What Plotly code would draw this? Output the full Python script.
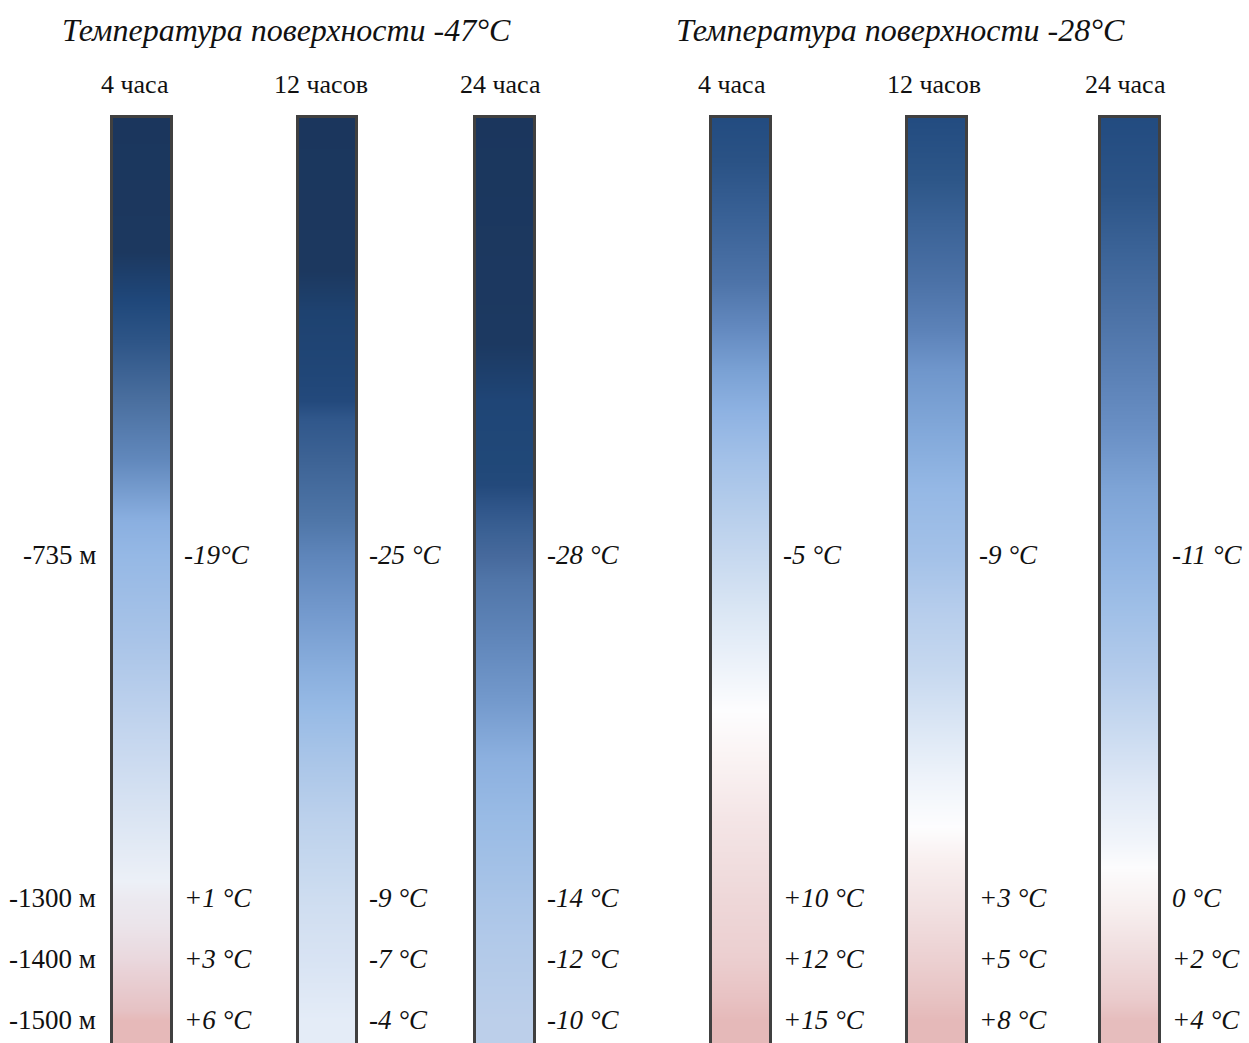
import plotly.graph_objects as go

# ---- data -------------------------------------------------------------
# depths (m) of the temperature readings; 0 is the surface
depths = [0, -735, -1300, -1400, -1500]
depth_ticks = [-735, -1300, -1400, -1500]
depth_tick_labels = ["-735 м", "-1300 м", "-1400 м", "-1500 м"]

group_titles = ["Температура поверхности -47°C", "Температура поверхности -28°C"]
durations = ["4 часа", "12 часов", "24 часа"]

# temperature (°C) at each depth, one list per exposure time
temps_m47_4h = [-47, -19, 1, 3, 6]
temps_m47_12h = [-47, -25, -9, -7, -4]
temps_m47_24h = [-47, -28, -14, -12, -10]
temps_m28_4h = [-28, -5, 10, 12, 15]
temps_m28_12h = [-28, -9, 3, 5, 8]
temps_m28_24h = [-28, -11, 0, 2, 4]

columns = [temps_m47_4h, temps_m47_12h, temps_m47_24h,
           temps_m28_4h, temps_m28_12h, temps_m28_24h]

# ---- styling ------------------------------------------------------------
W, H = 1249, 1043
TOP = 115
Y_RANGE = [-1538, -11]

# outer left / right pixel edges of the six bars
bar_edges = [(110, 173), (296, 358), (473, 536), (709, 772), (905, 968), (1098, 1161)]
header_x = [135, 321, 500, 732, 934, 1125]
title_x = [286, 900]

# per-bar colour gradients: (temperature, colour)
gradients = [
    [(-47, "#1b365d"), (-38, "#1c385f"), (-35, "#1f477a"), (-32.4, "#2e5587"),
     (-28.7, "#4a6f9f"), (-25, "#6188bc"), (-21.2, "#8aafe0"), (-19, "#95b8e5"),
     (-14, "#a9c4e8"), (-8.8, "#c3d5ee"), (-3.6, "#dbe5f3"), (0, "#ecf0f7"),
     (1.9, "#ebe4ea"), (3.45, "#e9d3d8"), (5.5, "#e6c2c4"), (6, "#e6b9b9")],
    [(-47, "#1b365d"), (-39, "#1c385f"), (-37, "#1e4270"), (-34, "#204677"),
     (-32.6, "#23497c"), (-31.7, "#30578b"), (-29.7, "#3d6395"), (-26.7, "#4f76a8"),
     (-25, "#5e85ba"), (-22.5, "#7298cc"), (-19.7, "#89aedd"), (-17.7, "#98bbe6"),
     (-15.5, "#a9c5e8"), (-12.7, "#bcd1ec"), (-9.9, "#c9daef"), (-7.7, "#d5e1f2"),
     (-4, "#e4ecf7")],
    [(-47, "#1b365d"), (-37, "#1c3961"), (-34.6, "#1f4576"), (-32, "#204878"),
     (-31, "#23497b"), (-30, "#30568a"), (-29, "#3b6194"), (-28, "#46699c"),
     (-27, "#5075a8"), (-24.6, "#6086ba"), (-22.1, "#7399cc"), (-19.7, "#8cb0df"),
     (-17.3, "#99bbe5"), (-14.8, "#a5c2e7"), (-12.7, "#b1c9e9"), (-10, "#bccfea")],
    [(-28, "#214a7f"), (-25.3, "#2a5285"), (-22.2, "#3a6297"), (-19.1, "#4d73a8"),
     (-16.7, "#6389bf"), (-14.5, "#7aa1d4"), (-12.4, "#8eb2e2"), (-9.9, "#a3c1e8"),
     (-7.4, "#b5cdeb"), (-5, "#c6d8ef"), (-2.6, "#dae6f4"), (0, "#eef3fa"),
     (1.8, "#fdfdfe"), (3.9, "#faf3f3"), (6.5, "#f4e5e6"), (9.4, "#efdadb"),
     (11.7, "#ecd0d1"), (13.9, "#e8c2c3"), (15, "#e5b9b9")],
    [(-28, "#214a7f"), (-25, "#2d5688"), (-23.2, "#3a6296"), (-20.7, "#4b71a6"),
     (-18.6, "#5c82b8"), (-16.9, "#6f96cb"), (-14, "#84aadb"), (-11.8, "#95b8e5"),
     (-9, "#a3c1e8"), (-7.1, "#b6cdec"), (-5, "#c6d8ef"), (-2.9, "#dce7f5"),
     (-1.2, "#eef3fa"), (0.5, "#fdfdfe"), (1.7, "#f8efef"), (3.4, "#f1e0e1"),
     (4.9, "#ecd1d2"), (6.9, "#e7c3c3"), (8, "#e5b9b9")],
    [(-28, "#214a7f"), (-24.8, "#2c5487"), (-22.6, "#3b6397"), (-20.3, "#4b71a5"),
     (-18, "#5a80b5"), (-15.7, "#6a90c5"), (-13.5, "#7ea4d6"), (-11, "#8fb3e2"),
     (-9.3, "#9fbfe7"), (-7.3, "#b3cbeb"), (-5.4, "#c9daf0"), (-3.5, "#e0e9f6"),
     (-1.9, "#f0f4fa"), (-1, "#fcfcfd"), (0.4, "#f7eeee"), (1.9, "#efdcdd"),
     (3.3, "#eacbcc"), (4, "#e6bdbd")],
]

SERIF = "Liberation Serif, Times New Roman, serif"
TEXT = "#111111"
BORDER = "#404040"


def colorscale(stops):
    lo, hi = stops[0][0], stops[-1][0]
    return [[(t - lo) / (hi - lo), c] for t, c in stops], lo, hi


def temp_label(v, compact=False):
    sep = "" if compact else " "
    sign = "+" if v > 0 else ""
    return f"{sign}{v}{sep}°C"


def to_paper(py):
    """pixel row -> paper coordinate"""
    return 1 + (TOP - py) / (H - TOP)


fig = go.Figure()
annotations = []
shapes = []

order = sorted(range(len(depths)), key=lambda i: depths[i])
y_sorted = [depths[i] for i in order]

for ci, (temps, (x0, x1), stops) in enumerate(zip(columns, bar_edges, gradients)):
    cs, lo, hi = colorscale(stops)
    fig.add_trace(go.Heatmap(
        z=[[temps[i]] for i in order],
        y=y_sorted,
        x0=(x0 + x1) / 2, dx=(x1 - x0),
        zsmooth="best", colorscale=cs, zmin=lo, zmax=hi,
        showscale=False, hoverinfo="skip",
    ))
    # frame around the bar
    shapes.append(dict(type="rect", xref="x", yref="paper",
                       x0=x0 + 1.5, x1=x1 - 1.5, y0=-0.05, y1=to_paper(TOP + 1.5),
                       line=dict(color=BORDER, width=3), fillcolor="rgba(0,0,0,0)"))
    # temperature labels beside the bar
    for d, t in zip(depths[1:], temps[1:]):
        annotations.append(dict(
            x=x1 + 9, y=d, xref="x", yref="y", xanchor="left", yanchor="middle",
            text=temp_label(t, compact=(ci == 0 and d == -735)), showarrow=False,
            font=dict(family=SERIF, size=27, color=TEXT, style="italic")))
    annotations.append(dict(
        x=header_x[ci], y=to_paper(85), xref="x", yref="paper",
        xanchor="center", yanchor="middle", text=durations[ci % 3], showarrow=False,
        font=dict(family=SERIF, size=26, color=TEXT)))

for gx, gt in zip(title_x, group_titles):
    annotations.append(dict(
        x=gx, y=to_paper(30), xref="x", yref="paper", xanchor="center",
        yanchor="middle", text=gt, showarrow=False,
        font=dict(family=SERIF, size=32, color=TEXT, style="italic")))

for d, lab in zip(depth_ticks, depth_tick_labels):
    annotations.append(dict(
        x=98, y=d, xref="x", yref="y", xanchor="right", yanchor="middle",
        text=lab, showarrow=False, font=dict(family=SERIF, size=27, color=TEXT)))

fig.update_layout(
    width=W, height=H,
    margin=dict(l=0, r=0, t=TOP, b=0, pad=0),
    paper_bgcolor="white", plot_bgcolor="white",
    xaxis=dict(range=[0, W], visible=False, fixedrange=True),
    yaxis=dict(range=Y_RANGE, visible=False, fixedrange=True),
    annotations=annotations, shapes=shapes, showlegend=False,
)

fig.write_html("out.html")
